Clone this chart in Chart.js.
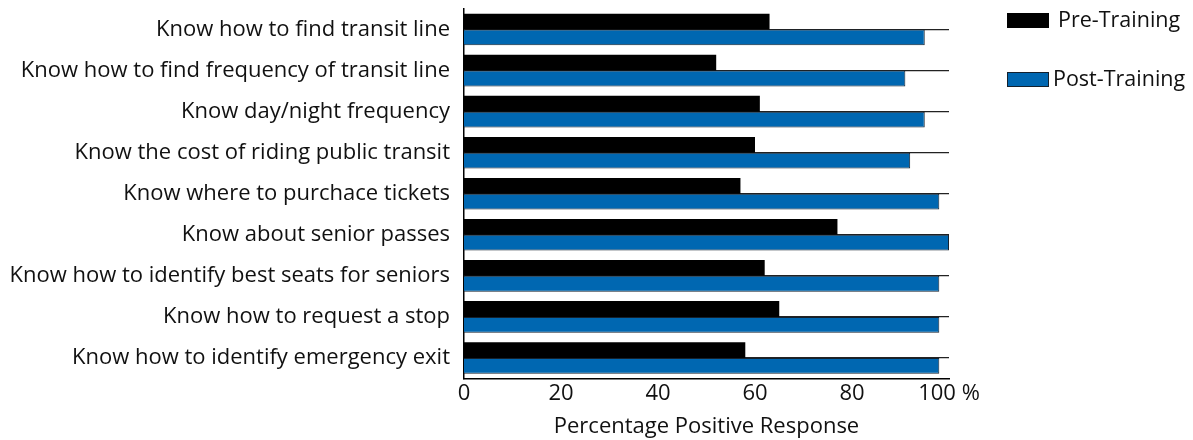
<!DOCTYPE html>
<html>
<head>
<meta charset="utf-8">
<script src="https://cdn.jsdelivr.net/npm/chart.js@4"></script>
<style>
  html, body { margin: 0; padding: 0; background: #fff; }
  #wrap { width: 1193px; height: 440px; position: relative; }
</style>
</head>
<body>
<div id="wrap"><canvas id="chart"></canvas></div>
<script>
const questions = [
  'Know how to find transit line',
  'Know how to find frequency of transit line',
  'Know day/night frequency',
  'Know the cost of riding public transit',
  'Know where to purchace tickets',
  'Know about senior passes',
  'Know how to identify best seats for seniors',
  'Know how to request a stop',
  'Know how to identify emergency exit'
];
const preTraining = [63, 52, 61, 60, 57, 77, 62, 65, 58];
const postTraining = [95, 91, 95, 92, 98, 100, 98, 98, 98];
const xTicks = [0, 20, 40, 60, 80, 100];

const FONT = '"Open Sans", "Noto Sans", sans-serif';
const BLUE = '#0067b1';

// legend on the right, drawn by hand
const sideLegend = {
  id: 'sideLegend',
  afterDraw(chart) {
    const c = chart.ctx;
    const rows = [
      { ds: chart.data.datasets[0], y: 13, textX: 1058 },
      { ds: chart.data.datasets[1], y: 72, textX: 1053 }
    ];
    c.save();
    c.font = '21.5px ' + FONT;
    c.textBaseline = 'middle';
    rows.forEach(r => {
      c.fillStyle = r.ds.backgroundColor;
      c.fillRect(1007, r.y, 42, 15);
      if (r.ds.borderWidth) {
        c.strokeStyle = r.ds.borderColor;
        c.lineWidth = 1;
        c.strokeRect(1007.5, r.y + 0.5, 41, 14);
      }
      c.fillStyle = '#111';
      c.fillText(r.ds.label, r.textX, r.y + 8);
    });
    c.restore();
  }
};

new Chart(document.getElementById('chart'), {
  type: 'bar',
  data: {
    labels: questions,
    datasets: [
      { label: 'Pre-Training', data: preTraining, backgroundColor: '#000', borderWidth: 0 },
      { label: 'Post-Training', data: postTraining, backgroundColor: BLUE, borderColor: '#14212e', borderWidth: 1 }
    ]
  },
  options: {
    indexAxis: 'y',
    responsive: true,
    maintainAspectRatio: false,
    animation: false,
    categoryPercentage: 0.77,
    barPercentage: 1,
    layout: { padding: { top: 9, right: 244, left: 0, bottom: 0 } },
    plugins: { legend: { display: false }, tooltip: { enabled: false } },
    scales: {
      x: {
        min: 0, max: 100,
        afterBuildTicks: s => { s.ticks = xTicks.map(v => ({ value: v })); },
        afterFit: s => { s.height = 61.5; s.paddingLeft = 0; s.paddingRight = 0; },
        grid: { display: false, drawTicks: false },
        border: { display: true, color: '#000', width: 1.5 },
        ticks: {
          padding: 2,
          color: '#111',
          font: { family: FONT, size: 22 },
          maxRotation: 0,
          callback: v => v === 100 ? '100 %' : v
        },
        title: {
          display: true,
          text: 'Percentage Positive Response',
          color: '#111',
          font: { family: FONT, size: 22 },
          padding: { top: 4, bottom: 0 }
        }
      },
      y: {
        afterFit: s => { s.width = 464; s.paddingTop = 0; s.paddingBottom = 0; },
        grid: { display: true, offset: false, drawTicks: false, color: '#222', lineWidth: 1.2 },
        border: { display: true, color: '#000', width: 1.5 },
        ticks: {
          padding: 14,
          color: '#111',
          font: { family: FONT, size: 22 },
          autoSkip: false
        }
      }
    }
  },
  plugins: [sideLegend]
});
</script>
</body>
</html>
